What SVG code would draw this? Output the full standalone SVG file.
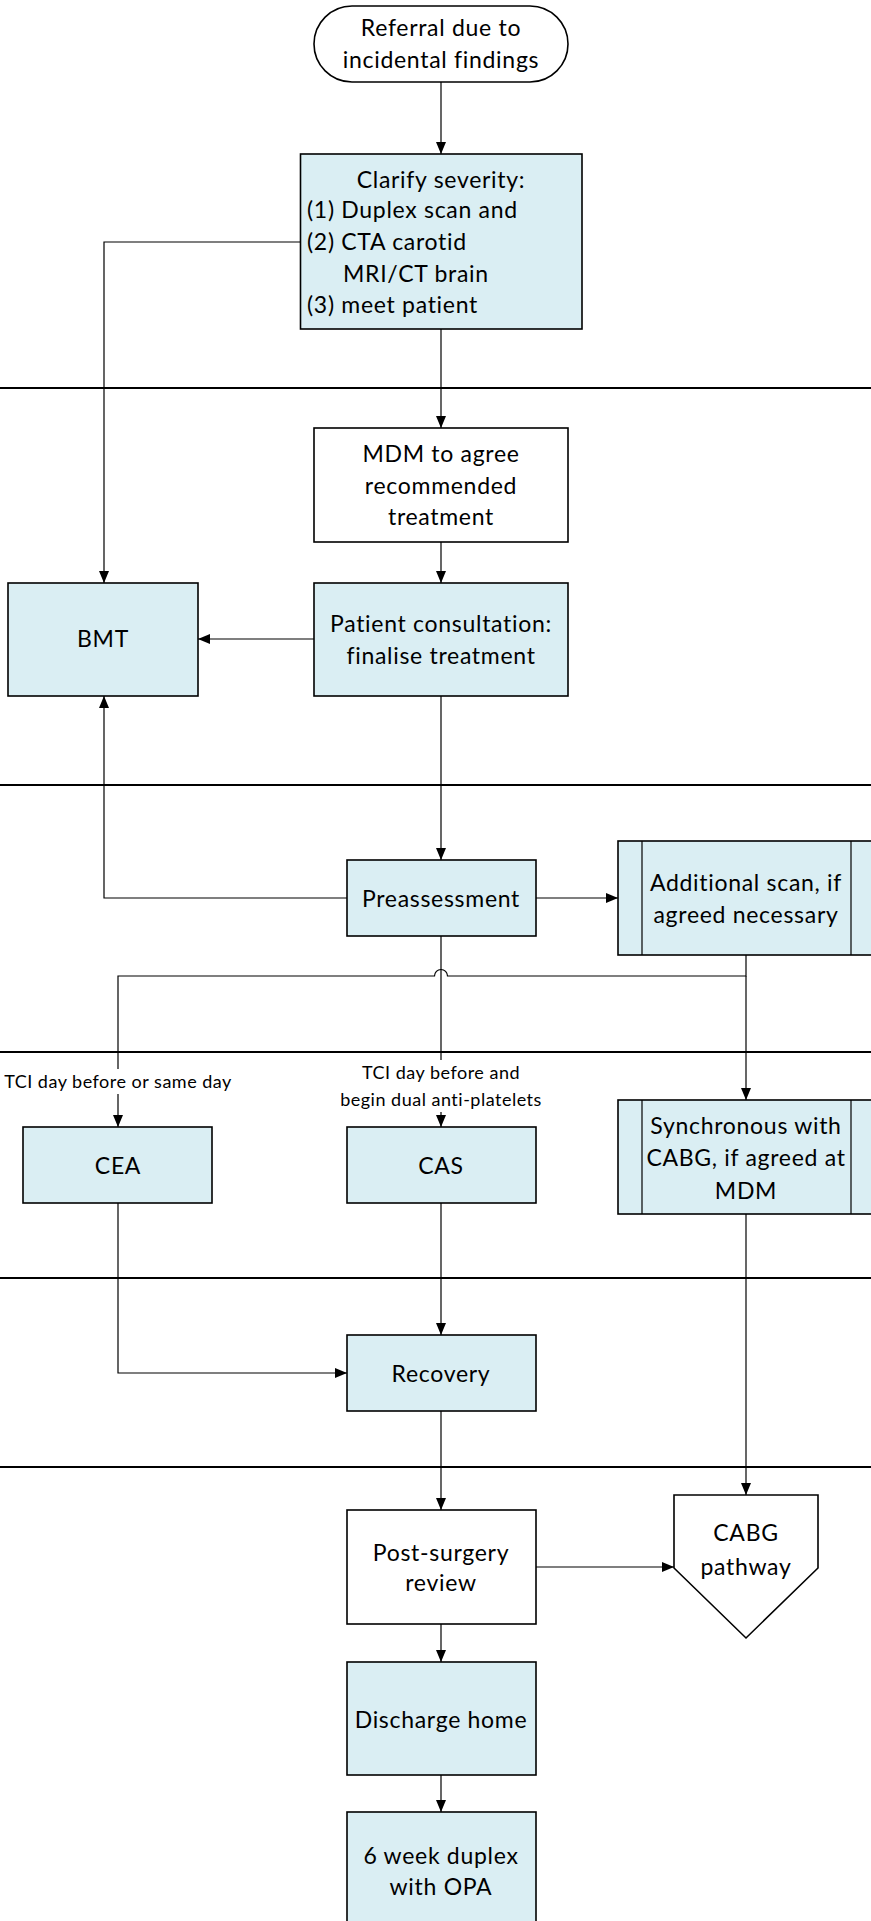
<svg xmlns="http://www.w3.org/2000/svg" width="871" height="1921" viewBox="0 0 871 1921">
<style>
.lane{stroke:#000;stroke-width:2;fill:none}
.box{fill:#DAEEF3;stroke:#000;stroke-width:1.6}
.wbox{fill:#fff;stroke:#000;stroke-width:1.6}
.con{stroke:#000;stroke-width:1.2;fill:none}
text{font-family:Lato,"Liberation Sans",sans-serif;font-size:23px;letter-spacing:0.7px;fill:#000}
.c{text-anchor:middle}
.lbl{font-size:18px;letter-spacing:0.5px}
</style>
<defs>
<marker id="arr" markerUnits="userSpaceOnUse" markerWidth="12" markerHeight="12" viewBox="0 0 12 12" refX="12" refY="6" orient="auto">
<path d="M0,1 L12,6 L0,11 Z" fill="#000"/>
</marker>
</defs>
<rect width="871" height="1921" fill="#fff"/>
<g id="lanes">
<line class="lane" x1="0" y1="388" x2="871" y2="388"/>
<line class="lane" x1="0" y1="785" x2="871" y2="785"/>
<line class="lane" x1="0" y1="1052" x2="871" y2="1052"/>
<line class="lane" x1="0" y1="1278" x2="871" y2="1278"/>
<line class="lane" x1="0" y1="1467" x2="871" y2="1467"/>
</g>
<g id="connectors">
<path class="con" d="M441,82 V154" marker-end="url(#arr)"/>
<path class="con" d="M300,242 H104 V583" marker-end="url(#arr)"/>
<path class="con" d="M441,329 V428" marker-end="url(#arr)"/>
<path class="con" d="M441,542 V583" marker-end="url(#arr)"/>
<path class="con" d="M314,639 H198" marker-end="url(#arr)"/>
<path class="con" d="M441,696 V860" marker-end="url(#arr)"/>
<path class="con" d="M347,898 H104 V696" marker-end="url(#arr)"/>
<path class="con" d="M536,898 H618" marker-end="url(#arr)"/>
<path class="con" d="M441,936 V1127" marker-end="url(#arr)"/>
<path class="con" d="M746,955 V976 H447.5 A6.5,6.5 0 0 0 434.5,976 H118 V1127" marker-end="url(#arr)"/>
<path class="con" d="M746,976 V1100" marker-end="url(#arr)"/>
<path class="con" d="M118,1203 V1373 H347" marker-end="url(#arr)"/>
<path class="con" d="M441,1203 V1335" marker-end="url(#arr)"/>
<path class="con" d="M746,1214 V1495" marker-end="url(#arr)"/>
<path class="con" d="M441,1411 V1510" marker-end="url(#arr)"/>
<path class="con" d="M536,1567 H674" marker-end="url(#arr)"/>
<path class="con" d="M441,1624 V1662" marker-end="url(#arr)"/>
<path class="con" d="M441,1775 V1812" marker-end="url(#arr)"/>
<g id="label-cea">
<rect x="0" y="1069" width="238" height="25" fill="#fff"/>
<text class="lbl c" x="118" y="1088">TCI day before or same day</text>
</g>
<g id="label-cas">
<rect x="356" y="1060" width="170" height="52" fill="#fff"/>
<text class="lbl c" x="441" y="1079">TCI day before and</text>
<text class="lbl c" x="441" y="1106">begin dual anti-platelets</text>
</g>
</g>
<g id="referral">
<rect class="wbox" x="314" y="6" width="254" height="76" rx="38" ry="38"/>
<text class="c" x="441" y="36">Referral due to</text>
<text class="c" x="441" y="68">incidental findings</text>
</g>
<g id="clarify">
<rect class="box" x="300.5" y="154" width="281.5" height="175"/>
<text class="c" x="441" y="188">Clarify severity:</text>
<text x="307" y="218">(1) Duplex scan and</text>
<text x="307" y="250">(2) CTA carotid</text>
<text x="343" y="282">MRI/CT brain</text>
<text x="307" y="313">(3) meet patient</text>
</g>
<g id="mdm">
<rect class="wbox" x="314" y="428" width="254" height="114"/>
<text class="c" x="441" y="462">MDM to agree</text>
<text class="c" x="441" y="494">recommended</text>
<text class="c" x="441" y="525">treatment</text>
</g>
<g id="consultation">
<rect class="box" x="314" y="583" width="254" height="113"/>
<text class="c" x="441" y="632">Patient consultation:</text>
<text class="c" x="441" y="664">finalise treatment</text>
</g>
<g id="bmt">
<rect class="box" x="8" y="583" width="190" height="113"/>
<text class="c" x="103" y="647">BMT</text>
</g>
<g id="preassessment">
<rect class="box" x="347" y="860" width="189" height="76"/>
<text class="c" x="441" y="907">Preassessment</text>
</g>
<g id="additional-scan">
<rect class="box" x="618" y="841" width="256" height="114"/>
<line class="con" x1="642" y1="841" x2="642" y2="955" stroke-width="1.6"/>
<line class="con" x1="851" y1="841" x2="851" y2="955" stroke-width="1.6"/>
<text class="c" x="746" y="891">Additional scan, if</text>
<text class="c" x="746" y="923">agreed necessary</text>
</g>
<g id="cea">
<rect class="box" x="23" y="1127" width="189" height="76"/>
<text class="c" x="118" y="1174">CEA</text>
</g>
<g id="cas">
<rect class="box" x="347" y="1127" width="189" height="76"/>
<text class="c" x="441" y="1174">CAS</text>
</g>
<g id="synchronous">
<rect class="box" x="618" y="1100" width="256" height="114"/>
<line class="con" x1="642" y1="1100" x2="642" y2="1214" stroke-width="1.6"/>
<line class="con" x1="851" y1="1100" x2="851" y2="1214" stroke-width="1.6"/>
<text class="c" x="746" y="1134">Synchronous with</text>
<text class="c" x="746" y="1166">CABG, if agreed at</text>
<text class="c" x="746" y="1199">MDM</text>
</g>
<g id="recovery">
<rect class="box" x="347" y="1335" width="189" height="76"/>
<text class="c" x="441" y="1382">Recovery</text>
</g>
<g id="post-surgery">
<rect class="wbox" x="347" y="1510" width="189" height="114"/>
<text class="c" x="441" y="1561">Post-surgery</text>
<text class="c" x="441" y="1591">review</text>
</g>
<g id="cabg">
<path class="wbox" d="M674,1495 H818 V1568 L746,1638 L674,1568 Z"/>
<text class="c" x="746" y="1541">CABG</text>
<text class="c" x="746" y="1575">pathway</text>
</g>
<g id="discharge">
<rect class="box" x="347" y="1662" width="189" height="113"/>
<text class="c" x="441" y="1728">Discharge home</text>
</g>
<g id="six-week">
<rect class="box" x="347" y="1812" width="189" height="120"/>
<text class="c" x="441" y="1864">6 week duplex</text>
<text class="c" x="441" y="1895">with OPA</text>
</g>
</svg>
